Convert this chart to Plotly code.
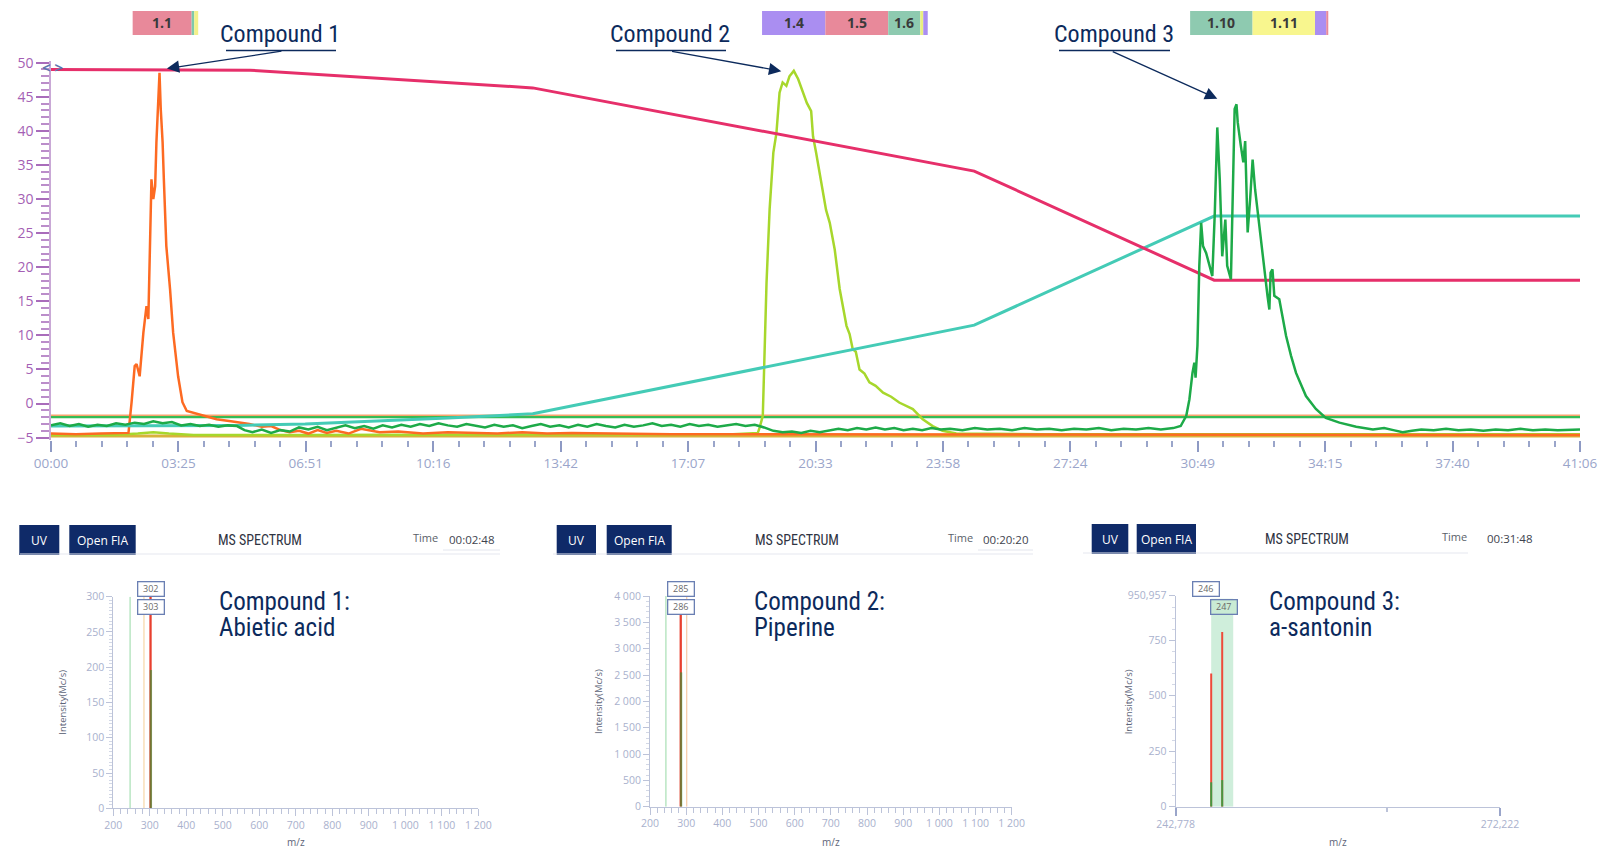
import plotly.graph_objects as go

W, H = 1599, 849
def px(x):
    return x / W
def py(y):
    return 1 - y / H

# ---------------- main chromatogram data (time in seconds) ----------------
time_tick_seconds = [0, 205.5, 411, 616.5, 822, 1027.5, 1233, 1438.5, 1644, 1849.5, 2055, 2260.5, 2466]
time_tick_labels = ["00:00", "03:25", "06:51", "10:16", "13:42", "17:07", "20:33",
                    "23:58", "27:24", "30:49", "34:15", "37:40", "41:06"]
y_tick_values = [-5, 0, 5, 10, 15, 20, 25, 30, 35, 40, 45, 50]

gradient_red_t = [0, 321, 777, 1489, 1876, 2466]
gradient_red_v = [49.0, 48.9, 46.3, 34.1, 18.1, 18.1]

gradient_teal_t = [0, 300, 410, 520, 640, 777, 1489, 1876, 2466]
gradient_teal_v = [-3.3, -3.2, -3.0, -2.6, -2.1, -1.5, 11.5, 27.5, 27.5]

flat_lines_t = [0, 2466]
flat_orange_v = [-1.75, -1.75]
flat_green_v = [-2.0, -2.0]
flat_gold_v = [-4.75, -4.75]

compound1_trace = [
    (0, -4.4), (40, -4.5), (80, -4.4), (110, -4.4), (125, -4.3), (130, 0.2), (135, 5.5),
    (138, 5.8), (143, 4.0), (149, 10.4), (154, 14.3), (157, 12.4), (162, 32.9), (165, 30.0),
    (168, 31.9), (170, 38.3), (175, 48.5), (177, 43.2), (180, 38.3), (182, 32.9), (186, 23.1),
    (192, 16.8), (197, 10.4), (205, 4.0), (212, 0.2), (219, -1.1), (240, -1.6), (267, -2.3),
    (290, -2.6), (305, -2.8), (320, -3.0), (340, -3.4), (355, -3.3), (370, -3.9), (385, -4.2),
    (400, -4.0), (415, -4.4), (430, -3.9), (445, -4.3), (460, -4.0), (480, -4.4), (500, -3.7),
    (530, -4.2), (560, -4.1), (600, -4.4), (640, -4.2), (680, -4.3), (720, -4.4), (760, -4.2),
    (800, -4.4), (840, -4.3), (900, -4.4), (1000, -4.5), (1100, -4.5), (1200, -4.5),
    (1400, -4.5), (1700, -4.5), (2000, -4.6), (2466, -4.6)]

compound2_trace = [
    (0, -4.6), (100, -4.6), (140, -4.4), (165, -4.2), (190, -4.4), (230, -4.6), (400, -4.6),
    (800, -4.6), (1100, -4.5), (1140, -4.3), (1143, -3.5), (1148, -1.8), (1154, 17.7),
    (1159, 28.5), (1165, 36.8), (1170, 39.7), (1175, 45.6), (1180, 47.1), (1186, 46.6),
    (1191, 48.0), (1198, 48.8), (1205, 47.6), (1213, 45.6), (1219, 44.1), (1226, 42.9),
    (1229, 39.2), (1234, 36.8), (1245, 30.9), (1250, 28.4), (1256, 26.5), (1264, 22.6),
    (1272, 16.8), (1283, 11.4), (1288, 10.2), (1293, 8.0), (1298, 7.6), (1304, 5.0),
    (1312, 4.4), (1320, 3.1), (1330, 2.6), (1342, 1.6), (1355, 1.0), (1368, 0.15),
    (1390, -0.8), (1406, -2.3), (1422, -3.3), (1438, -4.0), (1460, -4.4), (1600, -4.5),
    (2466, -4.5)]

compound3_trace = [
    (0, -3.2), (15, -2.9), (30, -3.3), (45, -3.0), (60, -3.4), (75, -3.1), (90, -3.3),
    (105, -2.9), (120, -3.1), (135, -2.8), (150, -3.0), (165, -2.6), (180, -2.9), (195, -2.7),
    (210, -3.2), (225, -3.0), (240, -3.3), (255, -3.1), (270, -3.4), (285, -3.2), (300, -3.3),
    (312, -3.9), (325, -4.2), (340, -3.8), (355, -4.3), (370, -3.9), (385, -4.1), (400, -3.5),
    (415, -3.8), (430, -3.4), (445, -3.9), (460, -3.5), (475, -3.2), (490, -3.6), (505, -3.3),
    (520, -3.7), (535, -3.2), (550, -3.5), (565, -3.1), (580, -3.4), (595, -3.0), (610, -3.3),
    (625, -2.9), (640, -3.2), (655, -3.4), (670, -3.0), (685, -3.3), (700, -3.5), (715, -3.1),
    (730, -3.4), (745, -3.2), (760, -3.6), (775, -3.3), (790, -3.0), (805, -3.4), (820, -3.2),
    (835, -3.5), (850, -3.1), (865, -3.4), (880, -3.0), (895, -3.3), (910, -3.5), (925, -3.1),
    (940, -3.4), (955, -3.2), (970, -2.9), (985, -3.3), (1000, -3.1), (1015, -3.4),
    (1030, -3.0), (1045, -3.3), (1060, -3.1), (1075, -3.4), (1090, -3.2), (1105, -3.0),
    (1120, -3.3), (1135, -3.1), (1150, -3.5), (1165, -4.0), (1180, -4.2), (1195, -4.1),
    (1210, -4.3), (1225, -4.0), (1240, -4.2), (1255, -3.9), (1270, -3.7), (1285, -3.9),
    (1300, -3.6), (1315, -3.8), (1330, -3.5), (1345, -3.8), (1360, -3.6), (1375, -3.9),
    (1390, -3.7), (1405, -3.9), (1420, -3.6), (1435, -3.8), (1450, -3.7), (1470, -3.9),
    (1490, -3.6), (1510, -3.8), (1530, -3.7), (1550, -3.9), (1570, -3.6), (1590, -3.8),
    (1610, -3.7), (1630, -3.9), (1650, -3.7), (1670, -3.8), (1690, -3.6), (1710, -3.9),
    (1730, -3.7), (1750, -3.8), (1770, -3.6), (1790, -3.8), (1810, -3.6), (1822, -3.3),
    (1831, -1.8), (1836, 0.6), (1839, 3.3), (1841, 4.5), (1844, 6.0), (1846, 3.8), (1849, 8.5),
    (1852, 20.2), (1855, 26.5), (1858, 23.1), (1863, 22.1), (1868, 20.2), (1873, 18.7),
    (1877, 28.0), (1881, 40.5), (1885, 32.9), (1889, 21.6), (1894, 27.0), (1897, 20.2),
    (1903, 18.2), (1906, 30.4), (1909, 43.2), (1912, 43.9), (1914, 41.2), (1919, 37.8),
    (1923, 35.4), (1926, 38.5), (1930, 25.1), (1934, 30.0), (1938, 35.8), (1942, 31.4),
    (1948, 26.5), (1954, 22.1), (1962, 15.8), (1965, 13.8), (1967, 19.2), (1970, 19.7),
    (1973, 15.8), (1981, 15.3), (1992, 9.9), (2000, 7.0), (2008, 4.5), (2016, 2.8),
    (2024, 1.1), (2040, -0.8), (2056, -2.1), (2078, -2.8), (2105, -3.4), (2132, -3.8),
    (2150, -3.6), (2165, -3.9), (2180, -4.2), (2195, -4.0), (2210, -3.8), (2230, -3.9),
    (2250, -3.7), (2270, -3.9), (2290, -3.8), (2310, -4.0), (2330, -3.8), (2350, -3.9),
    (2370, -3.7), (2390, -3.9), (2410, -3.8), (2430, -3.9), (2450, -3.8), (2466, -3.8)]

# fraction collection windows (start s, end s, label, colour)
fraction_start = [131.7, 226.8, 231.0, 1146.8, 1248.9, 1350.3, 1402.0, 1406.8, 1837.2, 1937.9, 2038.6, 2056.7]
fraction_end = [226.8, 231.0, 237.4, 1248.9, 1350.3, 1402.0, 1406.8, 1414.0, 1937.9, 2038.6, 2056.7, 2060.0]
fraction_label = ["1.1", "", "", "1.4", "1.5", "1.6", "", "", "1.10", "1.11", "", ""]
fraction_color = ["#e8899a", "#7fc9aa", "#f3f08a", "#aa8ef1", "#e8899a", "#8ecab0",
                  "#e9ef80", "#aa8ef1", "#8ecab0", "#f8f68e", "#aa8ef1", "#e8899a"]

compound_names = ["Compound 1", "Compound 2", "Compound 3"]
compound_tip_t = [183.7, 1181.0, 1884.0]
compound_tip_v = [49.1, 48.7, 44.6]

# ---------------- MS spectra ----------------
spec1_x_ticks = [200, 300, 400, 500, 600, 700, 800, 900, 1000, 1100, 1200]
spec1_x_labels = ["200", "300", "400", "500", "600", "700", "800", "900", "1 000", "1 100", "1 200"]
spec1_y_ticks = [0, 50, 100, 150, 200, 250, 300]
spec1_window_mz = [246, 284]
spec1_window_color = ["#a8dfb4", "#f6d6a6"]
spec1_peak_mz = [302, 303]
spec1_peak_int = [300, 196]
spec1_peak_color = ["#e8402f", "#1f9a35"]
spec1_labels = ["302", "303"]

spec2_y_ticks = [0, 500, 1000, 1500, 2000, 2500, 3000, 3500, 4000]
spec2_y_labels = ["0", "500", "1 000", "1 500", "2 000", "2 500", "3 000", "3 500", "4 000"]
spec2_window_mz = [244, 301.5]
spec2_window_color = ["#a8dfb4", "#f6c9a6"]
spec2_peak_mz = [285, 286]
spec2_peak_int = [3690, 2550]
spec2_peak_color = ["#e8402f", "#1f9a35"]
spec2_labels = ["285", "286"]

spec3_x_range = [242.778, 272.222]
spec3_y_top = 950.957
spec3_y_ticks = [0, 250, 500, 750, 950.957]
spec3_y_labels = ["0", "250", "500", "750", "950,957"]
spec3_band = [246.0, 248.0]
spec3_peak_mz = [246.0, 247.0]
spec3_peak_int = [600, 787]
spec3_peak_base_int = [110, 120]
spec3_labels = ["246", "247"]

compound_desc = [("Compound 1:", "Abietic acid"), ("Compound 2:", "Piperine"), ("Compound 3:", "a-santonin")]
spectrum_times = ["00:02:48", "00:20:20", "00:31:48"]

# ---------------- figure ----------------
NAVY = "#0c2a5c"
COND = "Roboto Condensed, Liberation Sans Narrow, DejaVu Sans Condensed, Arial Narrow, Roboto, sans-serif"
UI = "Open Sans, Lato, Noto Sans, sans-serif"
PURPLE = "#a45fb4"

fig = go.Figure()

def line(x, y, color, width, xa="x", ya="y", opacity=1.0):
    fig.add_trace(go.Scatter(x=x, y=y, mode="lines", xaxis=xa, yaxis=ya, opacity=opacity,
                             line=dict(color=color, width=width),
                             hoverinfo="skip", showlegend=False))

line(flat_lines_t, flat_gold_v, "#d9b23c", 3)
line(flat_lines_t, flat_orange_v, "#f7a46c", 2.2)
line(flat_lines_t, flat_green_v, "#35bb55", 2.2)
line([p[0] for p in compound2_trace], [p[1] for p in compound2_trace], "#a7d72c", 2.5)
line([p[0] for p in compound1_trace], [p[1] for p in compound1_trace], "#fd6a22", 2.5)
line(gradient_teal_t, gradient_teal_v, "#44cbb6", 3)
line(gradient_red_t, gradient_red_v, "#e62f6a", 3)
line([p[0] for p in compound3_trace], [p[1] for p in compound3_trace], "#1daa48", 2.5)

shapes = []
annotations = []

def text(x, y, t, size, color, family=UI, xanchor="center", **kw):
    d = dict(x=px(x), y=py(y), xref="paper", yref="paper", text=t, showarrow=False,
             xanchor=xanchor, yanchor="middle", font=dict(family=family, size=size, color=color))
    d.update(kw)
    annotations.append(d)

# fraction boxes
for s, e, lab, c in zip(fraction_start, fraction_end, fraction_label, fraction_color):
    shapes.append(dict(type="rect", xref="x", yref="paper", x0=s, x1=e, y0=py(35), y1=py(11),
                       fillcolor=c, line=dict(width=0), layer="above"))
    if lab:
        annotations.append(dict(x=(s + e) / 2, xref="x", y=py(23), yref="paper", text="<b>%s</b>" % lab,
                                xanchor="center", yanchor="middle", showarrow=False,
                                font=dict(family=UI, size=14, color="#3a3a3a")))

# compound headings with underline and arrow
head_left = [224, 614, 1057]
head_width = [112, 112, 113]
tails = [(283, 51), (671, 51), (1112, 51)]
for name, hl, hw, tail, tt, tv in zip(compound_names, head_left, head_width, tails,
                                     compound_tip_t, compound_tip_v):
    text(hl + hw / 2, 34, name, 24, NAVY, family=COND)
    shapes.append(dict(type="line", xref="paper", yref="paper", x0=px(hl + 2), x1=px(hl + hw),
                       y0=py(50.5), y1=py(50.5), line=dict(color=NAVY, width=1.5)))
    tip_x = 51 + tt * 1530 / 2466
    tip_y = 61.3 + (50.2 - tv) * 378.4 / 55.5
    annotations.append(dict(x=tt, y=tv, xref="x", yref="y", ax=tail[0] - tip_x, ay=tail[1] - tip_y,
                            axref="pixel", ayref="pixel", text="", showarrow=True,
                            arrowhead=2, arrowsize=1.9, arrowwidth=1.3, arrowcolor=NAVY, standoff=2))

# small < > glyph at the top of the y axis
text(52, 67, "<b>&lt;&nbsp;&gt;</b>", 15, "#5f74ad")

# ---------------- spectra panels ----------------
header = [
    dict(uv=(19.3, 59.3), fia=(69.3, 135.7), ms=260, time=425, tval=471.7, ul=(443, 500), hl=(20, 500), y=0),
    dict(uv=(556.7, 596), fia=(606.7, 671.7), ms=796.7, time=960, tval=1006, ul=(978, 1033), hl=(553, 1033), y=0),
    dict(uv=(1091.7, 1128.3), fia=(1136.7, 1196), ms=1307, time=1454, tval=1510, ul=None, hl=(1083, 1468), y=-1),
]
desc_x = [216.7, 751.7, 1267.3]
ytitle_x = [61.7, 598, 1128.3]
for i, hd in enumerate(header):
    dy = hd["y"]
    for (x0, x1), txt in ((hd["uv"], "UV"), (hd["fia"], "Open FIA")):
        shapes.append(dict(type="rect", xref="paper", yref="paper", x0=px(x0), x1=px(x1),
                           y0=py(555 + dy), y1=py(525 + dy), fillcolor="#0f2a68", line=dict(width=0)))
        text((x0 + x1) / 2, 540 + dy, txt, 12, "white")
    text(hd["ms"], 540 + dy, "MS SPECTRUM", 14, "#2f3442", family=COND)
    text(hd["time"], 537 + dy, "Time", 11, "#5a5f6a")
    text(hd["tval"], 539 + dy, spectrum_times[i], 11.5, "#3e434e")
    if hd["ul"]:
        shapes.append(dict(type="line", xref="paper", yref="paper", x0=px(hd["ul"][0]), x1=px(hd["ul"][1]),
                           y0=py(550), y1=py(550), line=dict(color="#e3e6ee", width=1)))
    shapes.append(dict(type="line", xref="paper", yref="paper", x0=px(hd["hl"][0]), x1=px(hd["hl"][1]),
                       y0=py(554 + dy), y1=py(554 + dy), line=dict(color="#e6e8ef", width=1.2)))
    l1, l2 = compound_desc[i]
    text(desc_x[i], 601, l1, 25, NAVY, family=COND, xanchor="left")
    text(desc_x[i], 627, l2, 25, NAVY, family=COND, xanchor="left")
    text(ytitle_x[i], 702, "Intensity(Mc/s)", 9.5, "#5d6478", textangle=-90)

for (x0, x1) in [(113.3, 478.3), (650, 1011.7), (1175.7, 1500)]:
    text((x0 + x1) / 2, 842, "m/z", 10, "#5d6478")

def stick(mz, h, color, width, xa, ya, opacity=1.0):
    line([mz, mz], [0, h], color, width, xa, ya, opacity)

for mz, c in zip(spec1_window_mz, spec1_window_color):
    stick(mz, 300, c, 1.2, "x2", "y2")
for mz, h, c, op in zip(spec1_peak_mz, spec1_peak_int, spec1_peak_color, [1.0, 0.55]):
    stick(mz, h, c, 2.3, "x2", "y2", op)
for mz, c in zip(spec2_window_mz, spec2_window_color):
    stick(mz, 4000, c, 1.2, "x3", "y3")
for mz, h, c, op in zip(spec2_peak_mz, spec2_peak_int, spec2_peak_color, [1.0, 0.55]):
    stick(mz, h, c, 2.3, "x3", "y3", op)
shapes.append(dict(type="rect", xref="x4", yref="y4", x0=spec3_band[0], x1=spec3_band[1], y0=0,
                   y1=spec3_y_top * 0.985, fillcolor="#cfeedb", line=dict(width=0), layer="below"))
for mz, h, hb in zip(spec3_peak_mz, spec3_peak_int, spec3_peak_base_int):
    stick(mz, h, "#ee4a3a", 2, "x4", "y4")
    stick(mz, hb, "#29a544", 2, "x4", "y4", 0.85)

# peak label boxes
label_sets = [("x2", [spec1_peak_mz[0]] * 2, spec1_labels, ["white", "white"]),
              ("x3", [spec2_peak_mz[0]] * 2, spec2_labels, ["white", "white"]),
              ("x4", [spec3_peak_mz[0] - 0.5, spec3_peak_mz[1] + 0.2], spec3_labels, ["white", "#c9ebd4"])]
for xa, xs, labs, bgs in label_sets:
    for k, (xv, lab, bg) in enumerate(zip(xs, labs, bgs)):
        annotations.append(dict(x=xv, xref=xa, y=py(588.5 + 18.5 * k), yref="paper", text=lab,
                                xanchor="center", yanchor="middle", showarrow=False, bgcolor=bg,
                                bordercolor="#6a7fb3", borderwidth=1.3, borderpad=1.5, width=22, height=10,
                                font=dict(family=UI, size=9, color="#6a6a6a")))

ax_color = "#bcc3d9"
tick_font = dict(family=UI, size=10.5, color="#a9b1cd")
common = dict(automargin=False, showgrid=False, zeroline=False)

fig.update_layout(
    width=W, height=H, margin=dict(l=0, r=0, t=0, b=0, autoexpand=False),
    paper_bgcolor="white", plot_bgcolor="white", showlegend=False,
    shapes=shapes, annotations=annotations,
    xaxis=dict(domain=[px(51), px(1580)], range=[0, 2466], tickmode="array", tickvals=time_tick_seconds,
               ticktext=time_tick_labels, ticks="outside", ticklen=11, tickwidth=2, tickcolor="#8e9ac4",
               showline=False, tickfont=dict(family=UI, size=13.5, color="#9aa5ca"),
               minor=dict(tickmode="array", tickvals=[i * 41.1 for i in range(61)], ticks="outside",
                          ticklen=6, tickwidth=1.5, tickcolor="#9aa5ca"), **common),
    yaxis=dict(domain=[py(439.7), py(61.3)], range=[-5.3, 50.2], tickmode="array", tickvals=y_tick_values,
               ticks="outside", ticklen=13, tickwidth=2, tickcolor="#a96cbb",
               showline=True, linecolor="#c9a8d6", linewidth=1.5,
               tickfont=dict(family=UI, size=14, color=PURPLE),
               minor=dict(tickmode="linear", tick0=0, dtick=1, ticks="outside", ticklen=8, tickwidth=1.6,
                          tickcolor="#bb8dca"), **common),
    xaxis2=dict(domain=[px(113.3), px(478.3)], range=[200, 1200], anchor="y2", tickmode="array",
                tickvals=spec1_x_ticks, ticktext=spec1_x_labels, ticks="outside", ticklen=7, tickcolor=ax_color,
                showline=True, linecolor=ax_color, tickfont=tick_font,
                minor=dict(tickmode="linear", tick0=200, dtick=20, ticks="outside", ticklen=5, tickcolor=ax_color),
                **common),
    yaxis2=dict(domain=[py(808.3), py(596.7)], range=[0, 300], anchor="x2", tickmode="array",
                tickvals=spec1_y_ticks, ticks="outside", ticklen=6, tickcolor=ax_color,
                showline=True, linecolor=ax_color, tickfont=tick_font,
                minor=dict(tickmode="linear", tick0=0, dtick=5, ticks="outside", ticklen=3, tickcolor="#d3d8e6"),
                **common),
    xaxis3=dict(domain=[px(650), px(1011.7)], range=[200, 1200], anchor="y3", tickmode="array",
                tickvals=spec1_x_ticks, ticktext=spec1_x_labels, ticks="outside", ticklen=7, tickcolor=ax_color,
                showline=True, linecolor=ax_color, tickfont=tick_font,
                minor=dict(tickmode="linear", tick0=200, dtick=20, ticks="outside", ticklen=5, tickcolor=ax_color),
                **common),
    yaxis3=dict(domain=[py(806.7), py(596)], range=[0, 4000], anchor="x3", tickmode="array",
                tickvals=spec2_y_ticks, ticktext=spec2_y_labels, ticks="outside", ticklen=6, tickcolor=ax_color,
                showline=True, linecolor=ax_color, tickfont=tick_font,
                minor=dict(tickmode="linear", tick0=0, dtick=100, ticks="outside", ticklen=3, tickcolor="#d3d8e6"),
                **common),
    xaxis4=dict(domain=[px(1175.7), px(1500)], range=spec3_x_range, anchor="y4", tickmode="array",
                tickvals=spec3_x_range, ticktext=["242,778", "272,222"], ticks="outside", ticklen=8,
                tickwidth=1.5, tickcolor="#9aa5ca", showline=True, linecolor=ax_color, tickfont=tick_font,
                minor=dict(tickmode="array", tickvals=[262], ticks="outside", ticklen=4, tickcolor=ax_color),
                **common),
    yaxis4=dict(domain=[py(806.7), py(595.7)], range=[0, spec3_y_top], anchor="x4", tickmode="array",
                tickvals=spec3_y_ticks, ticktext=spec3_y_labels, ticks="outside", ticklen=6, tickcolor=ax_color,
                showline=True, linecolor=ax_color, tickfont=tick_font,
                minor=dict(tickmode="linear", tick0=0, dtick=50, ticks="outside", ticklen=3, tickcolor="#d3d8e6"),
                **common),
)

fig.write_html("out.html", config=dict(displayModeBar=False),
               post_script="document.body.style.margin='0';document.body.style.overflow='hidden';")
